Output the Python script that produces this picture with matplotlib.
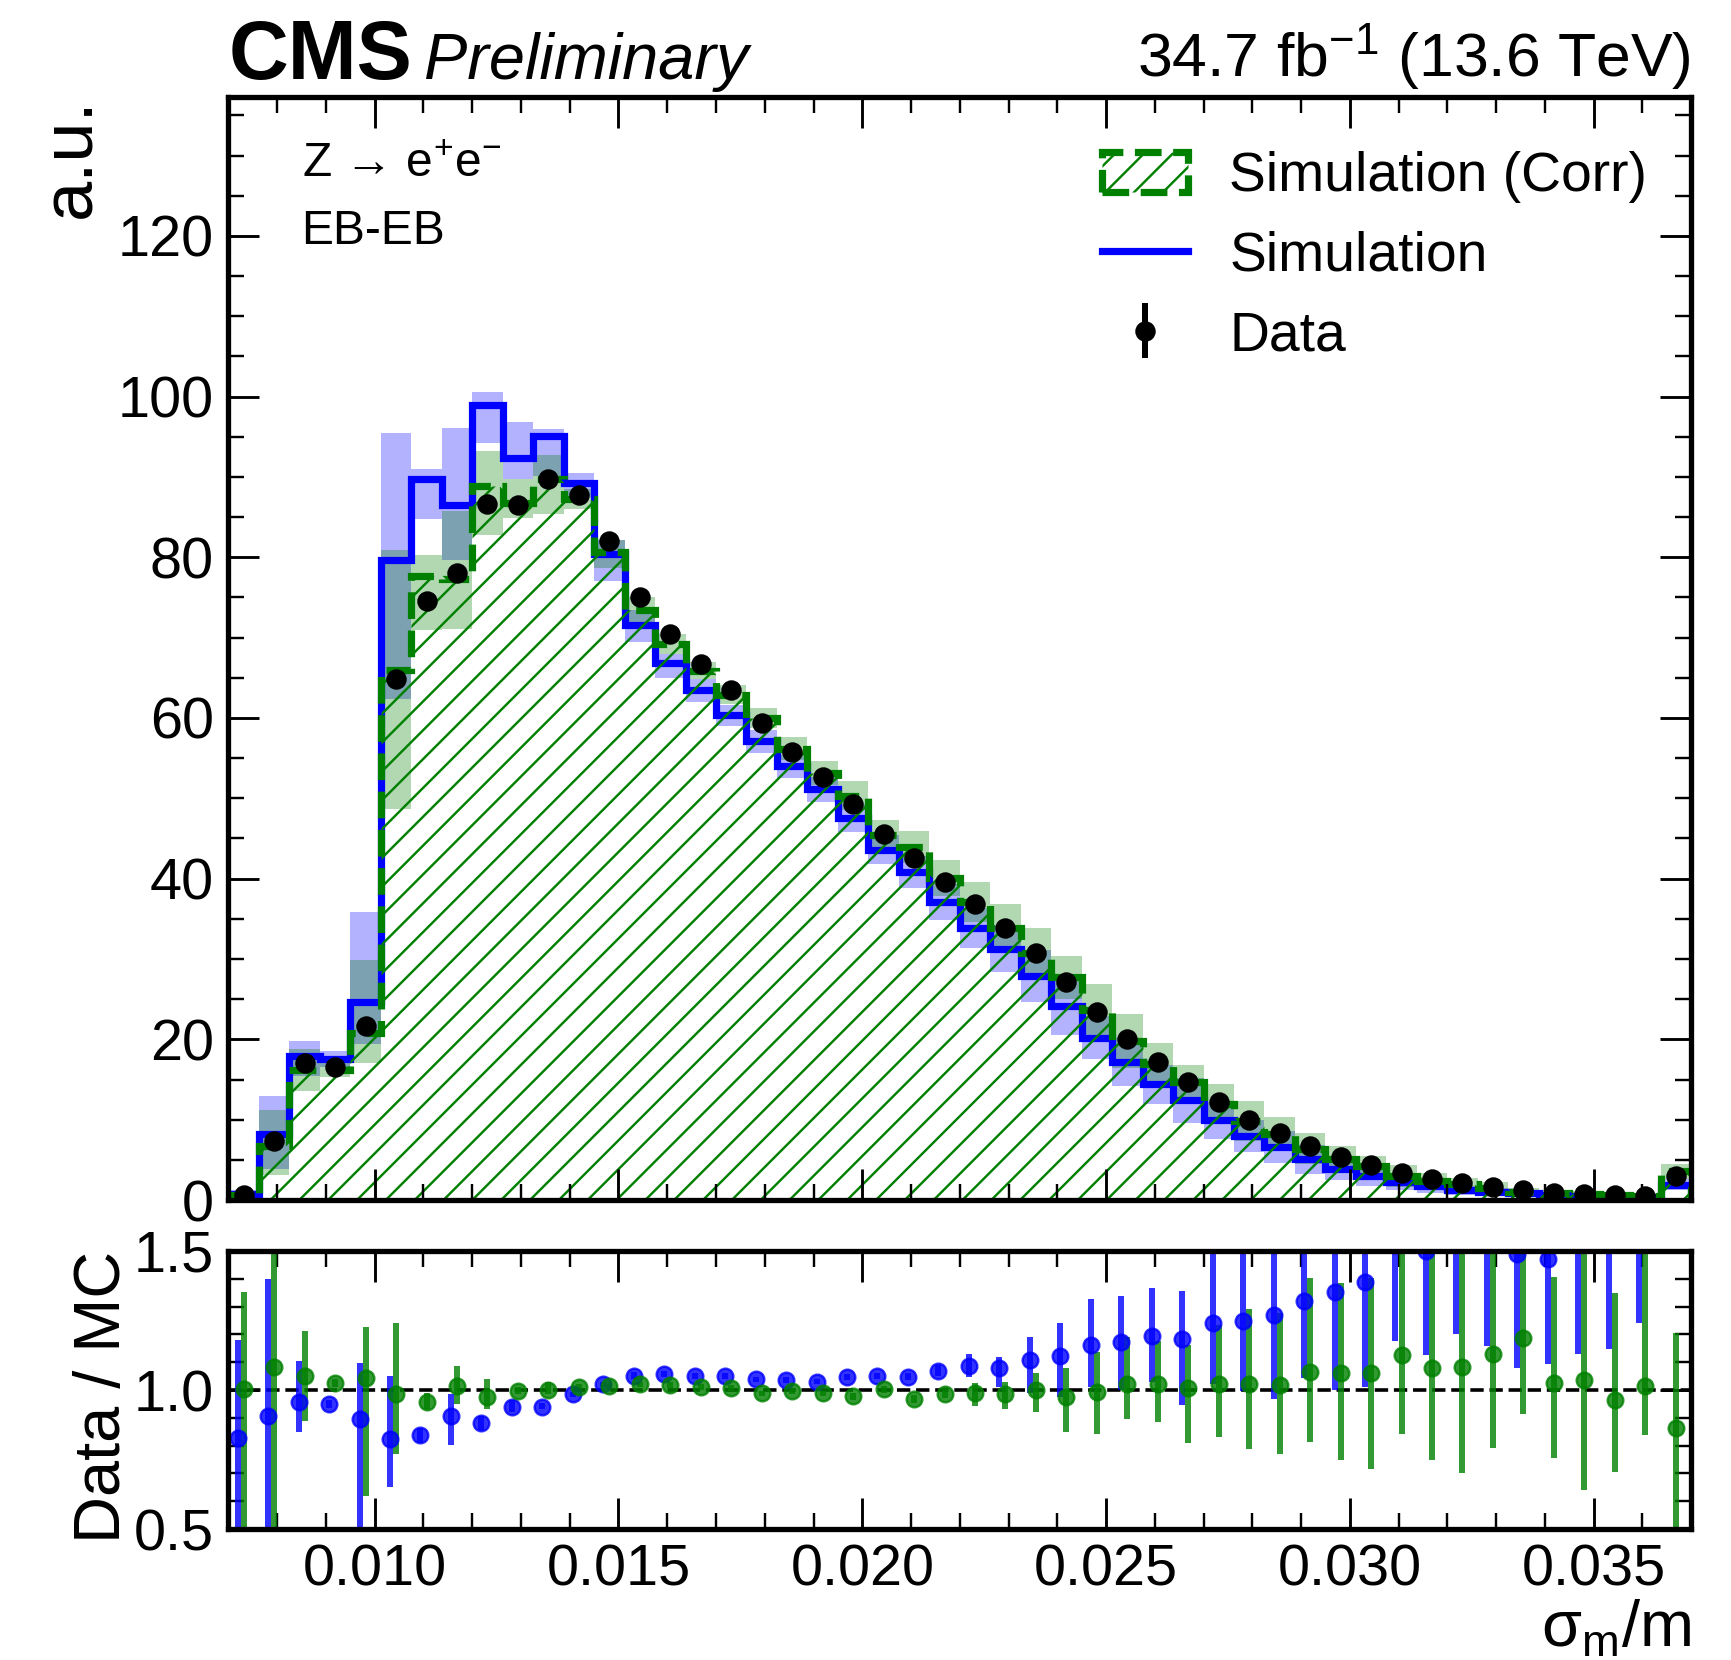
import matplotlib
matplotlib.use("Agg")
import matplotlib.pyplot as plt
import numpy as np
from matplotlib.lines import Line2D
from matplotlib.patches import Patch
from matplotlib.ticker import MultipleLocator, FormatStrFormatter

plt.rcParams["font.family"] = ["Liberation Sans", "DejaVu Sans"]
plt.rcParams["mathtext.fontset"] = "custom"
plt.rcParams["mathtext.rm"] = "Liberation Sans"
plt.rcParams["mathtext.it"] = "Liberation Sans:italic"
plt.rcParams["mathtext.bf"] = "Liberation Sans:bold"
plt.rcParams["hatch.linewidth"] = 1.0

# 48 bins in sigma_m/m
edges = np.linspace(0.007, 0.037, 49)

data = [0.6, 7.3, 17.0, 16.5, 21.7, 64.8, 74.5, 78.0, 86.6, 86.5, 89.7, 87.7,
        82.0, 75.0, 70.5, 66.7, 63.5, 59.4, 55.8, 52.6, 49.3, 45.6, 42.6, 39.6,
        36.9, 33.8, 30.8, 27.1, 23.4, 20.1, 17.2, 14.7, 12.2, 10.0, 8.3, 6.7,
        5.4, 4.4, 3.4, 2.6, 2.1, 1.66, 1.25, 0.91, 0.75, 0.62, 0.5, 3.0]
data_err = [0.1, 0.3, 0.4, 0.4, 0.5, 0.8, 0.8, 0.9, 0.9, 0.9, 0.9, 0.9,
            0.9, 0.8, 0.8, 0.8, 0.8, 0.7, 0.7, 0.7, 0.7, 0.6, 0.6, 0.6,
            0.6, 0.5, 0.5, 0.5, 0.5, 0.4, 0.4, 0.4, 0.3, 0.3, 0.3, 0.3,
            0.2, 0.2, 0.2, 0.2, 0.2, 0.1, 0.1, 0.1, 0.1, 0.1, 0.1, 0.2]

sim = [0.75, 8.2, 17.9, 17.5, 24.6, 79.7, 89.7, 86.5, 99.0, 92.3, 95.1, 89.2,
       80.4, 71.6, 66.8, 63.5, 60.4, 57.1, 54.0, 51.1, 47.6, 43.6, 40.8, 37.1,
       33.9, 31.3, 27.9, 24.2, 20.2, 17.2, 14.4, 12.4, 9.9, 8.0, 6.6, 5.1,
       3.9, 3.0, 2.2, 1.7, 1.2, 1.0, 0.84, 0.62, 0.5, 0.4, 0.35, 1.9]
sim_lo = [0.3, 3.9, 15.4, 16.5, 19.4, 62.4, 84.8, 79.7, 94.2, 89.7, 90.1, 87.5,
          77.0, 69.4, 65.0, 62.0, 59.0, 55.6, 52.5, 49.5, 45.8, 41.8, 38.8, 34.9,
          31.4, 28.4, 24.7, 20.6, 17.5, 14.2, 12.0, 9.6, 7.6, 6.0, 4.6, 3.3,
          2.5, 1.8, 1.2, 0.9, 0.6, 0.5, 0.4, 0.3, 0.2, 0.15, 0.1, 1.2]
sim_hi = [1.2, 12.9, 19.8, 18.5, 35.9, 95.5, 91.0, 96.1, 100.6, 96.8, 96.0, 90.5,
          82.2, 73.4, 68.0, 64.8, 61.6, 58.5, 55.4, 52.6, 49.3, 45.4, 42.8, 39.3,
          36.4, 34.2, 31.1, 27.8, 22.9, 20.2, 16.8, 15.2, 12.2, 10.0, 8.6, 6.9,
          5.3, 4.2, 3.2, 2.5, 1.8, 1.5, 1.3, 0.95, 0.8, 0.65, 0.6, 2.6]

corr = [0.6, 6.7, 16.2, 16.2, 20.8, 66.0, 77.7, 77.3, 88.9, 86.8, 89.8, 87.2,
        80.7, 73.4, 69.2, 65.9, 62.9, 60.0, 56.2, 53.1, 50.3, 45.4, 43.9, 40.1,
        37.1, 33.9, 30.7, 27.7, 23.6, 19.8, 16.9, 14.7, 12.0, 9.8, 8.2, 6.4,
        5.1, 4.2, 3.0, 2.4, 1.95, 1.5, 1.05, 0.89, 0.72, 0.64, 0.49, 3.6]
corr_lo = [0.2, 3.1, 13.6, 15.3, 17.0, 48.7, 71.0, 71.1, 82.8, 84.9, 85.4, 86.0,
           78.7, 72.0, 68.0, 64.8, 61.8, 58.7, 54.8, 51.7, 48.6, 43.5, 41.9, 37.9,
           34.6, 31.0, 27.5, 25.0, 20.3, 16.4, 14.3, 12.6, 9.5, 7.3, 6.1, 4.5,
           3.5, 2.9, 1.6, 1.4, 1.2, 0.8, 0.6, 0.5, 0.35, 0.3, 0.2, 2.6]
corr_hi = [0.9, 11.2, 18.8, 17.1, 29.9, 80.9, 80.3, 85.7, 93.2, 89.7, 92.7, 88.5,
           82.2, 75.0, 70.5, 67.0, 64.1, 61.2, 57.6, 54.7, 52.2, 47.3, 45.9, 42.3,
           39.6, 36.8, 33.9, 30.4, 26.9, 23.2, 19.5, 16.8, 14.5, 12.3, 10.3, 8.3,
           6.7, 5.5, 4.4, 3.4, 2.7, 2.2, 1.5, 1.3, 1.1, 0.95, 0.8, 4.5]

# Data / MC ratios (value, lower edge, upper edge of the bar)
r_sim = [0.826, 0.906, 0.958, 0.95, 0.897, 0.822, 0.838, 0.906, 0.880, 0.94, 0.94, 0.984,
         1.02, 1.052, 1.058, 1.052, 1.05, 1.038, 1.036, 1.03, 1.045, 1.05, 1.048, 1.07,
         1.088, 1.08, 1.107, 1.123, 1.161, 1.173, 1.195, 1.185, 1.242, 1.249, 1.269, 1.321,
         1.354, 1.388, 1.52, 1.5, 1.65, 1.6, 1.49, 1.47, 1.6, 1.65, 1.8, 1.65]
r_sim_lo = [0.4, 0.4, 0.85, 0.935, 0.4, 0.651, 0.81, 0.803, 0.855, 0.92, 0.93, 0.975,
            1.01, 1.04, 1.045, 1.04, 1.04, 1.03, 1.026, 1.02, 1.035, 1.04, 1.035, 1.05,
            1.048, 1.01, 0.988, 0.976, 1.01, 1.0, 1.028, 0.946, 1.02, 0.997, 0.966, 1.042,
            1.0, 1.01, 1.176, 1.126, 1.2, 1.16, 1.08, 1.095, 1.13, 1.146, 1.24, 1.52]
r_sim_hi = [1.18, 1.398, 1.104, 0.965, 1.096, 1.05, 0.865, 0.986, 0.905, 0.965, 0.955, 0.993,
            1.03, 1.065, 1.07, 1.062, 1.06, 1.048, 1.046, 1.04, 1.057, 1.06, 1.06, 1.09,
            1.128, 1.12, 1.191, 1.242, 1.326, 1.339, 1.368, 1.357, 1.6, 1.6, 1.6, 1.6,
            1.6, 1.6, 1.8, 1.8, 2.0, 2.0, 1.8, 1.8, 2.0, 2.0, 2.2, 1.9]

r_corr = [1.002, 1.084, 1.051, 1.025, 1.044, 0.984, 0.958, 1.014, 0.974, 0.997, 1.0, 1.01,
          1.015, 1.02, 1.018, 1.011, 1.008, 0.988, 0.996, 0.988, 0.979, 1.003, 0.969, 0.987,
          0.99, 0.987, 1.0, 0.976, 0.994, 1.02, 1.02, 1.006, 1.02, 1.023, 1.018, 1.066,
          1.06, 1.06, 1.126, 1.078, 1.084, 1.13, 1.186, 1.026, 1.035, 0.963, 1.014, 0.862]
r_corr_lo = [0.4, 0.4, 0.89, 1.01, 0.62, 0.769, 0.93, 0.95, 0.93, 0.985, 0.985, 1.0,
             1.005, 1.01, 1.008, 1.0, 0.998, 0.978, 0.986, 0.977, 0.965, 0.99, 0.955, 0.97,
             0.943, 0.93, 0.922, 0.85, 0.842, 0.897, 0.885, 0.811, 0.83, 0.789, 0.769, 0.813,
             0.747, 0.717, 0.842, 0.75, 0.70, 0.79, 0.915, 0.754, 0.642, 0.706, 0.838, 0.4]
r_corr_hi = [1.354, 1.6, 1.212, 1.04, 1.225, 1.242, 0.99, 1.086, 1.041, 1.01, 1.03, 1.02,
             1.025, 1.03, 1.028, 1.02, 1.018, 0.998, 1.006, 0.998, 0.99, 1.015, 0.982, 1.003,
             1.026, 1.03, 1.062, 1.078, 1.138, 1.19, 1.176, 1.163, 1.233, 1.291, 1.278, 1.402,
             1.386, 1.402, 1.6, 1.6, 1.6, 1.6, 1.6, 1.406, 1.6, 1.348, 1.6, 1.204]

centers = 0.5 * (edges[:-1] + edges[1:])
bw = edges[1] - edges[0]


def asym(v, lo, hi):
    v, lo, hi = np.asarray(v), np.asarray(lo), np.asarray(hi)
    return [v - lo, hi - v]


def style_axis(a):
    a.tick_params(which="both", direction="in", top=True, right=True, labelsize=24)
    a.tick_params(which="major", length=13, width=1.2, pad=6)
    a.tick_params(which="minor", length=6.7, width=1.0)
    for s in a.spines.values():
        s.set_linewidth(2.2)


fig = plt.figure(figsize=(10, 1660 / 173.1), dpi=173.1)
ax = fig.add_axes([0.1320, 0.2771, 0.8449, 0.6645])
rax = fig.add_axes([0.1320, 0.0789, 0.8449, 0.1675], sharex=ax)

# uncertainty bands
ax.stairs(sim_hi, edges, baseline=sim_lo, fill=True, color="blue", alpha=0.3, lw=0)
ax.stairs(corr_hi, edges, baseline=corr_lo, fill=True, color="green", alpha=0.3, lw=0)
# histograms
ax.stairs(sim, edges, color="blue", lw=3)
ax.stairs(corr, edges, fill=True, facecolor="none", edgecolor="green", hatch="//",
          linestyle="--", lw=3)
hdata = ax.errorbar(centers, data, yerr=data_err, fmt="o", color="black", ms=7.5,
                    elinewidth=2.5, capsize=0)

ax.set_xlim(0.007, 0.037)
ax.set_ylim(0, 137.3)
ax.yaxis.set_major_locator(MultipleLocator(20))
ax.yaxis.set_minor_locator(MultipleLocator(5))
ax.xaxis.set_major_locator(MultipleLocator(0.005))
ax.xaxis.set_minor_locator(MultipleLocator(0.001))
style_axis(ax)
ax.tick_params(labelbottom=False)
ax.set_ylabel("a.u.", fontsize=30, loc="top")
ax.yaxis.set_label_coords(-0.084, 1.0)

ax.text(0.05, 0.959, "Z → e$^{+}$e$^{-}$", transform=ax.transAxes, fontsize=20,
        va="top", ha="left")
ax.text(0.05, 0.898, "EB-EB", transform=ax.transAxes, fontsize=20, va="top", ha="left")

h_corr = Patch(facecolor="none", edgecolor="green", hatch="//", linestyle="--", lw=3)
h_sim = Line2D([], [], color="blue", lw=3)
ax.legend([h_corr, h_sim, hdata], ["Simulation (Corr)", "Simulation", "Data"],
          loc="upper right", bbox_to_anchor=(1.004, 0.996), frameon=False, fontsize=23,
          handlelength=1.55, handleheight=0.75, handletextpad=0.75, labelspacing=0.5)

ax.text(0.0, 1.016, "CMS", transform=ax.transAxes, fontsize=34.5, fontweight="bold",
        va="baseline", ha="left")
ax.text(0.134, 1.016, "Preliminary", transform=ax.transAxes, fontsize=27,
        fontstyle="italic", va="baseline", ha="left")
ax.text(1.0, 1.018, "34.7 fb$^{-1}$ (13.6 TeV)", transform=ax.transAxes, fontsize=26,
        va="baseline", ha="right")

# ratio panel
rax.axhline(1.0, color="black", ls="--", lw=1.5)
rax.errorbar(centers - 0.2 * bw, r_sim, yerr=asym(r_sim, r_sim_lo, r_sim_hi), fmt="o",
             color="blue", alpha=0.8, ms=6.5, elinewidth=2.5, capsize=0)
rax.errorbar(centers, r_corr, yerr=asym(r_corr, r_corr_lo, r_corr_hi), fmt="o",
             color="green", alpha=0.8, ms=6.5, elinewidth=2.5, capsize=0)
rax.set_ylim(0.5, 1.5)
rax.yaxis.set_major_locator(MultipleLocator(0.5))
rax.yaxis.set_minor_locator(MultipleLocator(0.1))
rax.yaxis.set_major_formatter(FormatStrFormatter("%.1f"))
rax.xaxis.set_major_formatter(FormatStrFormatter("%.3f"))
style_axis(rax)
rax.set_ylabel("Data / MC", fontsize=27, loc="top")
rax.yaxis.set_label_coords(-0.065, 1.0)
rax.set_xlabel(r"σ$_\mathrm{m}$/m", fontsize=27, loc="right")
rax.xaxis.set_label_coords(1.0, -0.25)

fig.savefig("out.png", dpi=173.1)
